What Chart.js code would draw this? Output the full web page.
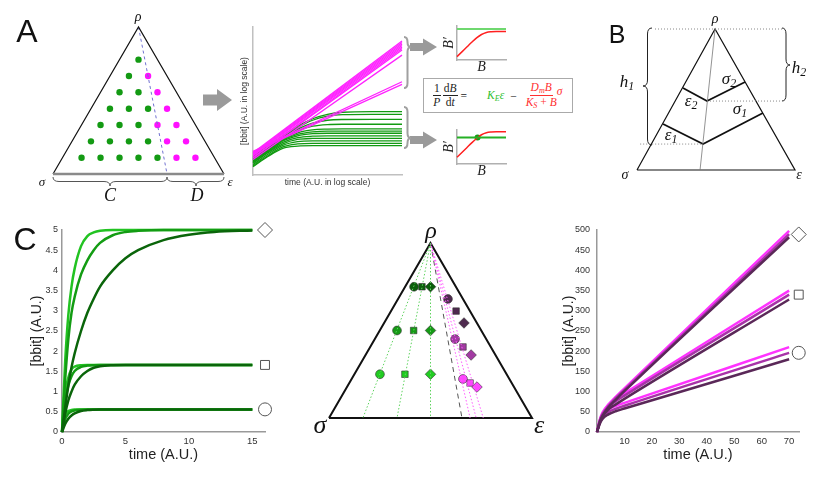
<!DOCTYPE html>
<html><head><meta charset="utf-8">
<script src="https://cdn.jsdelivr.net/npm/chart.js@4.4.1/dist/chart.umd.min.js"></script>
<style>
html,body{margin:0;padding:0;background:#fff;}
#wrap{position:relative;width:831px;height:478px;overflow:hidden;background:#fff;}
canvas{position:absolute;}
.lab{position:absolute;transform:translate(-50%,-50%);font-family:'Liberation Serif',serif;font-style:italic;white-space:nowrap;line-height:1;color:#111;}
.lab sub{font-size:70%;vertical-align:-0.25em;}
.pl{position:absolute;transform:translate(-50%,-50%);font-family:'Liberation Sans',Arial,sans-serif;line-height:1;color:#111;}
#eq{position:absolute;left:423px;top:78px;width:150px;height:35px;border:1px solid #aaa;background:#fff;font-family:'Liberation Serif',serif;font-size:11.5px;display:flex;align-items:center;justify-content:flex-start;padding-left:9px;box-sizing:border-box;color:#222;}
.frac{display:inline-flex;flex-direction:column;align-items:center;vertical-align:middle;line-height:1.15;}
.frac>span:first-child{border-bottom:1px solid currentColor;padding:0 1px;}
#eq sub{font-size:70%;vertical-align:-0.2em;}
</style></head>
<body><div id="wrap">
<canvas id="decor" width="831" height="478" style="left:0;top:0;width:831px;height:478px"></canvas>
<canvas id="triA" width="191" height="167" style="left:43px;top:17px;width:191px;height:167px"></canvas>
<canvas id="logA" width="175" height="172" style="left:236px;top:20px;width:175px;height:172px"></canvas>
<canvas id="smallTop" width="75" height="56" style="left:441px;top:20px;width:75px;height:56px"></canvas>
<canvas id="smallBot" width="75" height="56" style="left:441px;top:124px;width:75px;height:56px"></canvas>
<canvas id="triB" width="198" height="181" style="left:617px;top:9px;width:198px;height:181px"></canvas>
<canvas id="cLeft" width="254" height="263" style="left:26px;top:215px;width:254px;height:263px"></canvas>
<canvas id="triC" width="243" height="215" style="left:309px;top:223px;width:243px;height:215px"></canvas>
<canvas id="cRight" width="272" height="263" style="left:559px;top:215px;width:272px;height:263px"></canvas>

<div id="eq">
  <span class="frac"><span>1</span><span><i>P</i></span></span>
  <span class="frac" style="margin-left:2px"><span>d<i>B</i></span><span>d<i>t</i></span></span>
  <span style="margin-left:3px">=</span>
  <span style="color:#2fbf2f;margin-left:20px"><i>K<sub>E</sub>ε</i></span>
  <span style="margin-left:6px">−</span>
  <span class="frac" style="color:#ff3030;margin-left:9px"><span><i>D<sub>m</sub>B</i></span><span><i>K<sub>S</sub></i> + <i>B</i></span></span><span style="color:#ff3030;position:relative;top:-5px"><i>σ</i></span>
</div>

<div class="pl" style="left:27px;top:31px;font-size:32px">A</div>
<div class="pl" style="left:617px;top:34px;font-size:25px">B</div>
<div class="pl" style="left:25px;top:239px;font-size:32px">C</div>

<div class="lab" style="left:138px;top:17px;font-size:14px">ρ</div>
<div class="lab" style="left:42px;top:181px;font-size:13px">σ</div>
<div class="lab" style="left:230px;top:181px;font-size:13px">ε</div>
<div class="lab" style="left:110px;top:195px;font-size:18px">C</div>
<div class="lab" style="left:197px;top:195px;font-size:18px">D</div>

<div class="lab" style="left:715px;top:19px;font-size:14px">ρ</div>
<div class="lab" style="left:625px;top:175px;font-size:14px">σ</div>
<div class="lab" style="left:799px;top:175px;font-size:14px">ε</div>
<div class="lab" style="left:627px;top:83px;font-size:17px">h<sub>1</sub></div>
<div class="lab" style="left:799px;top:69px;font-size:17px">h<sub>2</sub></div>
<div class="lab" style="left:671px;top:136px;font-size:17px">ε<sub>1</sub></div>
<div class="lab" style="left:691px;top:102px;font-size:17px">ε<sub>2</sub></div>
<div class="lab" style="left:740px;top:110px;font-size:17px">σ<sub>1</sub></div>
<div class="lab" style="left:729px;top:80px;font-size:17px">σ<sub>2</sub></div>

<div class="lab" style="left:431px;top:230px;font-size:24px">ρ</div>
<div class="lab" style="left:320px;top:425px;font-size:26px">σ</div>
<div class="lab" style="left:539px;top:425px;font-size:26px">ε</div>
</div>

<script>
// ---------------- Panel A : ternary lattice (unit triangle: σ=(0,0), ρ=(0.5,1), ε=(1,0)) -------------
const triA_edge_x = [0, 0.5, 1];
const triA_edge_y = [0, 1, 0];
const triA_base_x = [0, 1];
const triA_base_y = [0, 0];
const triA_divider_x = [0.5, 0.667];
const triA_divider_y = [1, 0];
const triA_green_x = [0.5, 0.444, 0.389, 0.5, 0.333, 0.444, 0.556, 0.278, 0.389, 0.5, 0.222, 0.333, 0.444, 0.556, 0.167, 0.278, 0.389, 0.5, 0.611];
const triA_green_y = [0.778, 0.667, 0.556, 0.556, 0.444, 0.444, 0.444, 0.333, 0.333, 0.333, 0.222, 0.222, 0.222, 0.222, 0.111, 0.111, 0.111, 0.111, 0.111];
const triA_mag_x = [0.556, 0.611, 0.667, 0.611, 0.722, 0.667, 0.778, 0.722, 0.833];
const triA_mag_y = [0.667, 0.556, 0.444, 0.333, 0.333, 0.222, 0.222, 0.111, 0.111];

// ---------------- Panel A : log-log time courses -------------
const logTime = [0, 10];
const magentaStart = [1.5, 1.45, 1.4, 1.35, 1.3, 1.2, 1.15, 1.05, 1.6, 1.55];
const magentaEnd   = [9.05, 8.95, 8.85, 8.75, 8.65, 8.55, 8.45, 8.1, 6.3, 6.12];
const greenTime = [0, 1, 2, 3, 4, 5, 6, 8, 10];
const green01 = [1.24, 1.95, 2.65, 3.3, 3.8, 4.1, 4.24, 4.28, 4.28];
const green02 = [1.15, 1.85, 2.55, 3.2, 3.7, 3.98, 4.08, 4.1, 4.1];
const green03 = [1.1, 1.8, 2.5, 3.1, 3.5, 3.7, 3.75, 3.76, 3.76];
const green04 = [1.05, 1.75, 2.45, 3.0, 3.3, 3.41, 3.43, 3.43, 3.43];
const green05 = [1.0, 1.7, 2.4, 2.85, 3.05, 3.1, 3.11, 3.11, 3.11];
const green06 = [0.95, 1.65, 2.35, 2.75, 2.92, 2.97, 2.97, 2.97, 2.97];
const green07 = [0.9, 1.6, 2.3, 2.65, 2.79, 2.82, 2.82, 2.82, 2.82];
const green08 = [0.85, 1.55, 2.2, 2.52, 2.62, 2.64, 2.64, 2.64, 2.64];
const green09 = [0.8, 1.5, 2.1, 2.4, 2.47, 2.48, 2.48, 2.48, 2.48];
const green10 = [0.7, 1.4, 2.0, 2.25, 2.3, 2.3, 2.3, 2.3, 2.3];
const green11 = [0.62, 1.3, 1.9, 2.1, 2.14, 2.14, 2.14, 2.14, 2.14];
const green12 = [0.56, 1.25, 1.8, 1.95, 1.98, 1.98, 1.98, 1.98, 1.98];

// ---------------- Panel A : B' vs B insets -------------
const smallB = [0, 0.1, 0.2, 0.3, 0.4, 0.5, 0.6, 0.7, 0.8, 1];
const topRed = [0.1, 0.24, 0.38, 0.52, 0.65, 0.75, 0.81, 0.83, 0.835, 0.835];
const topGreenLevel = [0.91, 0.91];
const botRed = [0.2, 0.34, 0.48, 0.62, 0.75, 0.86, 0.92, 0.94, 0.945, 0.945];
const botGreenLevel = [0.78, 0.78];
const botFixedPoint = [0.42, 0.78];
const levelB = [0, 1];

// ---------------- Panel B -------------
const triB_edge_x = [0, 0.494, 1, 0];
const triB_edge_y = [0, 1, 0, 0];
const triB_axis_x = [0.494, 0.399];
const triB_axis_y = [1, 0];
const triB_lower_x = [0.165, 0.418, 0.797];
const triB_lower_y = [0.326, 0.184, 0.404];
const triB_upper_x = [0.291, 0.443, 0.684];
const triB_upper_y = [0.582, 0.489, 0.624];
const triB_dot_top_x = [0.114, 0.918];
const triB_dot_top_y = [1, 1];
const triB_dot_mid_x = [0.443, 0.918];
const triB_dot_mid_y = [0.489, 0.489];
const triB_dot_low_x = [0.02, 0.418];
const triB_dot_low_y = [0.184, 0.184];

// ---------------- Panel C left : saturating growth -------------
const cTime = [0, 0.25, 0.5, 0.75, 1, 1.5, 2, 2.5, 3, 4, 5, 6, 8, 10, 12, 15];
const diamondFast = [0, 1.75, 2.9, 3.6, 4.05, 4.6, 4.85, 4.94, 4.98, 5, 5, 5, 5, 5, 5, 5];
const diamondMid  = [0, 1.3, 2.3, 2.95, 3.35, 3.9, 4.25, 4.5, 4.68, 4.87, 4.95, 4.98, 5, 5, 5, 5];
const diamondSlow = [0, 0.6, 1.15, 1.6, 1.95, 2.5, 2.95, 3.3, 3.6, 4.0, 4.3, 4.5, 4.75, 4.88, 4.95, 4.99];
const squareFast  = [0, 0.95, 1.35, 1.55, 1.62, 1.655, 1.66, 1.66, 1.66, 1.66, 1.66, 1.66, 1.66, 1.66, 1.66, 1.66];
const squareMid   = [0, 0.75, 1.15, 1.38, 1.51, 1.61, 1.645, 1.655, 1.66, 1.66, 1.66, 1.66, 1.66, 1.66, 1.66, 1.66];
const squareSlow  = [0, 0.45, 0.78, 1.0, 1.17, 1.38, 1.51, 1.59, 1.63, 1.655, 1.66, 1.66, 1.66, 1.66, 1.66, 1.66];
const circleFast  = [0, 0.42, 0.52, 0.545, 0.555, 0.56, 0.56, 0.56, 0.56, 0.56, 0.56, 0.56, 0.56, 0.56, 0.56, 0.56];
const circleMid   = [0, 0.32, 0.45, 0.51, 0.535, 0.552, 0.558, 0.56, 0.56, 0.56, 0.56, 0.56, 0.56, 0.56, 0.56, 0.56];
const circleSlow  = [0, 0.2, 0.33, 0.41, 0.46, 0.52, 0.543, 0.553, 0.558, 0.56, 0.56, 0.56, 0.56, 0.56, 0.56, 0.56];
const cLeftXTicks = [0, 5, 10, 15];
const cLeftYTicks = [0, 0.5, 1, 1.5, 2, 2.5, 3, 3.5, 4, 4.5, 5];
const cLeftSymbolX = [16, 16, 16];
const cLeftSymbolY = [5, 1.66, 0.56];

// ---------------- Panel C middle : ternary positions -------------
const triC_edge_x = [0, 0.5, 1, 0];
const triC_edge_y = [0, 1, 0, 0];
const triC_greenLineEnds = [0.167, 0.335, 0.5];
const triC_magentaLineEnds = [0.695, 0.725, 0.76];
const triC_dashEnd = [0.655];
const triC_darkGreen_x = [0.419, 0.458, 0.5];
const triC_darkGreen_y = [0.75, 0.75, 0.75];
const triC_midGreen_x = [0.335, 0.417, 0.5];
const triC_midGreen_y = [0.5, 0.5, 0.5];
const triC_lightGreen_x = [0.251, 0.374, 0.5];
const triC_lightGreen_y = [0.25, 0.25, 0.25];
const triC_darkPurple_x = [0.586, 0.626, 0.665];
const triC_darkPurple_y = [0.68, 0.611, 0.543];
const triC_midPurple_x = [0.621, 0.66, 0.7];
const triC_midPurple_y = [0.451, 0.406, 0.36];
const triC_brightPurple_x = [0.66, 0.695, 0.729];
const triC_brightPurple_y = [0.223, 0.2, 0.177];

// ---------------- Panel C right : unbounded growth -------------
const rTime = [0, 1, 2, 4, 7, 10, 70];
const diamondBright = [0, 27, 45, 66, 88, 108, 498];
const diamondPurple = [0, 26, 42, 63, 85, 104, 490];
const diamondDark   = [0, 24, 40, 60, 81, 101, 482];
const squareBright  = [0, 30, 48, 67, 83, 96, 350];
const squarePurple  = [0, 28, 44, 61, 77, 90, 340];
const squareDark    = [0, 24, 38, 55, 69, 82, 328];
const circleBright  = [0, 26, 41, 55, 65, 72, 210];
const circlePurple  = [0, 23, 36, 49, 58, 65, 196];
const circleDark    = [0, 20, 32, 43, 52, 58, 180];
const cRightXTicks = [10, 20, 30, 40, 50, 60, 70];
const cRightYTicks = [0, 50, 100, 150, 200, 250, 300, 350, 400, 450, 500];
const cRightSymbolX = [73.5, 73.5, 73.5];
const cRightSymbolY = [489, 340, 196];

// ================= helpers =================
const SANS = "'Liberation Sans', Arial, sans-serif";
const SERIF = "'Liberation Serif', serif";
const pts = (xs, ys) => xs.map((x, i) => ({x: x, y: ys[i]}));
const base = {responsive: false, animation: false, events: [],
  plugins: {legend: {display: false}, tooltip: {enabled: false}}};
const hidden = {x: {type: 'linear', display: false, min: 0, max: 1}, y: {type: 'linear', display: false, min: 0, max: 1}};
function line(data, color, width, extra) {
  return Object.assign({data: data, showLine: true, borderColor: color, borderWidth: width, pointRadius: 0, fill: false, tension: 0, clip: false}, extra || {});
}
function dots(data, color, radius, extra) {
  return Object.assign({data: data, showLine: false, backgroundColor: color, borderColor: color, pointRadius: radius, pointBorderWidth: 0, clip: false}, extra || {});
}
function braceV(ctx, x, y1, y2, ym, d) {
  const h = d / 2, r = Math.min(6, (ym - y1) / 2, (y2 - ym) / 2);
  ctx.beginPath();
  ctx.moveTo(x, y1);
  ctx.quadraticCurveTo(x + h, y1, x + h, y1 + r);
  ctx.lineTo(x + h, ym - r);
  ctx.quadraticCurveTo(x + h, ym, x + d, ym);
  ctx.quadraticCurveTo(x + h, ym, x + h, ym + r);
  ctx.lineTo(x + h, y2 - r);
  ctx.quadraticCurveTo(x + h, y2, x, y2);
  ctx.stroke();
}
function braceH(ctx, y, x1, x2, xm, d) {
  const h = d / 2, r = Math.min(6, (xm - x1) / 2, (x2 - xm) / 2);
  ctx.beginPath();
  ctx.moveTo(x1, y);
  ctx.quadraticCurveTo(x1, y + h, x1 + r, y + h);
  ctx.lineTo(xm - r, y + h);
  ctx.quadraticCurveTo(xm, y + h, xm, y + d);
  ctx.quadraticCurveTo(xm, y + h, xm + r, y + h);
  ctx.lineTo(x2 - r, y + h);
  ctx.quadraticCurveTo(x2, y + h, x2, y);
  ctx.stroke();
}
function arrow(ctx, x0, xh, x1, yc, sh, hh, color) {
  ctx.fillStyle = color;
  ctx.beginPath();
  ctx.moveTo(x0, yc - sh / 2); ctx.lineTo(xh, yc - sh / 2); ctx.lineTo(xh, yc - hh / 2);
  ctx.lineTo(x1, yc); ctx.lineTo(xh, yc + hh / 2); ctx.lineTo(xh, yc + sh / 2);
  ctx.lineTo(x0, yc + sh / 2); ctx.closePath(); ctx.fill();
}

// ================= decorations (arrows & braces) =================
const decorPlugin = {id: 'decor', afterDraw(chart) {
  const ctx = chart.ctx;
  ctx.save();
  arrow(ctx, 203, 217, 232, 100, 11, 22, '#9a9a9a');
  arrow(ctx, 410, 423, 437, 47, 8, 17, '#9a9a9a');
  arrow(ctx, 410, 423, 437, 140, 8, 17, '#9a9a9a');
  ctx.strokeStyle = '#a0a0a0'; ctx.lineWidth = 2;
  braceV(ctx, 404, 37, 88, 47, 7);
  braceV(ctx, 404, 107, 148, 138, 7);
  ctx.strokeStyle = '#555'; ctx.lineWidth = 1;
  braceH(ctx, 177, 53, 167, 110, 9);
  braceH(ctx, 177, 167, 224, 196, 9);
  ctx.strokeStyle = '#222';
  braceV(ctx, 652, 28, 145, 86, -9);
  braceV(ctx, 782, 28, 101, 65, 8);
  ctx.restore();
}};
new Chart(document.getElementById('decor'), {type: 'scatter', data: {datasets: []},
  options: Object.assign({}, base, {scales: {x: {display: false}, y: {display: false}}}), plugins: [decorPlugin]});

// ================= Panel A triangle =================
new Chart(document.getElementById('triA'), {type: 'scatter', data: {datasets: [
  line(pts(triA_base_x, triA_base_y), '#8a8a8a', 2.5),
  line(pts(triA_edge_x, triA_edge_y), '#111', 1.2),
  line(pts(triA_divider_x, triA_divider_y), '#7070d0', 1, {borderDash: [3, 3]}),
  dots(pts(triA_green_x, triA_green_y), '#139a13', 3.2),
  dots(pts(triA_mag_x, triA_mag_y), '#ff10ff', 3.2)
]}, options: Object.assign({}, base, {layout: {padding: 10}, scales: hidden})});

// ================= Panel A log plot =================
const logSets = [];
magentaStart.forEach((s, i) => logSets.push(line(pts(logTime, [s, magentaEnd[i]]), '#ff22ff', 1.3)));
[green01, green02, green03, green04, green05, green06, green07, green08, green09, green10, green11, green12]
  .forEach(g => logSets.push(line(pts(greenTime, g), '#129a12', 1.3, {cubicInterpolationMode: 'monotone'})));
new Chart(document.getElementById('logA'), {type: 'scatter', data: {datasets: logSets},
  options: Object.assign({}, base, {layout: {padding: {top: 7, right: 9, left: 0, bottom: 0}},
    scales: {
      x: {type: 'linear', min: 0, max: 10, ticks: {display: false}, grid: {display: false, drawTicks: false},
        border: {color: '#c0c0c0', width: 1.5},
        title: {display: true, text: 'time (A.U. in log scale)', color: '#333', font: {family: SANS, size: 8.5}, padding: {top: 0, bottom: 4}},
        afterFit: s => { s.height = 17; }},
      y: {type: 'linear', min: 0, max: 10, ticks: {display: false}, grid: {display: false, drawTicks: false},
        border: {color: '#c0c0c0', width: 1.5},
        title: {display: true, text: '[bbit] (A.U. in log scale)', color: '#333', font: {family: SANS, size: 8.5}, padding: {top: 4, bottom: 0}},
        afterFit: s => { s.width = 17; }}
    }})});

// ================= Panel A insets =================
function inset(id, red, greenLevel, fixedPoint, greenColor) {
  const sets = [line(pts(levelB, greenLevel), greenColor, 2), line(pts(smallB, red), '#ff2020', 1.5, {cubicInterpolationMode: 'monotone'})];
  if (fixedPoint) sets.push(dots([{x: fixedPoint[0], y: fixedPoint[1]}], '#159a15', 3));
  new Chart(document.getElementById(id), {type: 'scatter', data: {datasets: sets},
    options: Object.assign({}, base, {layout: {padding: {top: 6, right: 10, left: 0, bottom: 0}},
      scales: {
        x: {type: 'linear', min: 0, max: 1, ticks: {display: false}, grid: {display: false, drawTicks: false},
          border: {color: '#b0b0b0', width: 1.5},
          title: {display: true, text: 'B', color: '#222', font: {family: SERIF, size: 14, style: 'italic'}, padding: {top: 0, bottom: 0}},
          afterFit: s => { s.height = 16; }},
        y: {type: 'linear', min: 0, max: 1, ticks: {display: false}, grid: {display: false, drawTicks: false},
          border: {color: '#b0b0b0', width: 1.5},
          title: {display: true, text: 'B′', color: '#222', font: {family: SERIF, size: 14, style: 'italic'}, padding: {top: 0, bottom: 0}},
          afterFit: s => { s.width = 16; }}
      }})});
}
inset('smallTop', topRed, topGreenLevel, null, '#6fd86f');
inset('smallBot', botRed, botGreenLevel, botFixedPoint, '#25b025');

// ================= Panel B =================
new Chart(document.getElementById('triB'), {type: 'scatter', data: {datasets: [
  line(pts(triB_dot_top_x, triB_dot_top_y), '#888', 1, {borderDash: [1, 2]}),
  line(pts(triB_dot_mid_x, triB_dot_mid_y), '#888', 1, {borderDash: [1, 2]}),
  line(pts(triB_dot_low_x, triB_dot_low_y), '#888', 1, {borderDash: [1, 2]}),
  line(pts(triB_axis_x, triB_axis_y), '#777', 0.8),
  line(pts(triB_edge_x, triB_edge_y), '#111', 1.2),
  line(pts(triB_lower_x, triB_lower_y), '#111', 1.8),
  line(pts(triB_upper_x, triB_upper_y), '#111', 1.8)
]}, options: Object.assign({}, base, {layout: {padding: 20}, scales: hidden})});

// ================= Panel C left =================
const gFast = '#22c322', gMid = '#139c13', gSlow = '#0a650a';
const symbolSet = (xs, ys) => ({data: pts(xs, ys), showLine: false, pointStyle: ['rectRot', 'rect', 'circle'],
  pointRadius: [7.5, 6.3, 6.5], backgroundColor: '#fff', borderColor: '#555', pointBorderWidth: 1, clip: false});
new Chart(document.getElementById('cLeft'), {type: 'scatter', data: {datasets: [
  line(pts(cTime, diamondSlow), gSlow, 2.5, {cubicInterpolationMode: 'monotone'}),
  line(pts(cTime, squareSlow), gSlow, 2.5, {cubicInterpolationMode: 'monotone'}),
  line(pts(cTime, circleSlow), gSlow, 2.5, {cubicInterpolationMode: 'monotone'}),
  line(pts(cTime, diamondMid), gMid, 2.5, {cubicInterpolationMode: 'monotone'}),
  line(pts(cTime, squareMid), gMid, 2.5, {cubicInterpolationMode: 'monotone'}),
  line(pts(cTime, circleMid), gMid, 2.5, {cubicInterpolationMode: 'monotone'}),
  line(pts(cTime, diamondFast), gFast, 2.5, {cubicInterpolationMode: 'monotone'}),
  line(pts(cTime, squareFast), gFast, 2.5, {cubicInterpolationMode: 'monotone'}),
  line(pts(cTime, circleFast), gFast, 2.5, {cubicInterpolationMode: 'monotone'}),
  symbolSet(cLeftSymbolX, cLeftSymbolY)
]}, options: Object.assign({}, base, {layout: {padding: {top: 15, right: 15, bottom: 10, left: 0}},
  scales: {
    x: {type: 'linear', min: 0, max: 16, afterBuildTicks: s => { s.ticks = cLeftXTicks.map(v => ({value: v})); },
      ticks: {callback: v => String(v), color: '#333', font: {family: SANS, size: 9.5}, padding: 4, maxRotation: 0},
      grid: {display: false, drawTicks: false}, border: {color: '#999', width: 1.5},
      title: {display: true, text: 'time (A.U.)', color: '#222', font: {family: SANS, size: 14.5}, padding: {top: 0, bottom: 4}},
      afterFit: s => { s.height = 36; }},
    y: {type: 'linear', min: 0, max: 5, afterBuildTicks: s => { s.ticks = cLeftYTicks.map(v => ({value: v})); },
      ticks: {callback: v => String(v), color: '#333', font: {family: SANS, size: 9}, padding: 4},
      grid: {display: false, drawTicks: false}, border: {color: '#999', width: 1.5},
      title: {display: true, text: '[bbit] (A.U.)', color: '#222', font: {family: SANS, size: 14}, padding: {top: 3, bottom: 0}},
      afterFit: s => { s.width = 36; }}
  }})});

// ================= Panel C middle =================
const apexC = {x: 0.5, y: 1};
const triCSets = [];
triC_greenLineEnds.forEach(e => triCSets.push(line([apexC, {x: e, y: 0}], '#5fd35f', 1, {borderDash: [1.5, 2]})));
triC_magentaLineEnds.forEach(e => triCSets.push(line([apexC, {x: e, y: 0}], '#ff5cff', 1, {borderDash: [1.5, 2]})));
triCSets.push(line([apexC, {x: triC_dashEnd[0], y: 0}], '#555', 1, {borderDash: [5, 4]}));
triCSets.push(line(pts(triC_edge_x, triC_edge_y), '#111', 2));
function markerSet(xs, ys, color) {
  return {data: pts(xs, ys), showLine: false, pointStyle: ['circle', 'rect', 'rectRot'], pointRadius: [4.4, 4.6, 5.3],
    backgroundColor: color, borderColor: '#333', pointBorderWidth: 0.6, clip: false};
}
triCSets.push(markerSet(triC_darkGreen_x, triC_darkGreen_y, '#0b5e0b'));
triCSets.push(markerSet(triC_midGreen_x, triC_midGreen_y, '#159a15'));
triCSets.push(markerSet(triC_lightGreen_x, triC_lightGreen_y, '#22cc22'));
triCSets.push(markerSet(triC_darkPurple_x, triC_darkPurple_y, '#4f2a4f'));
triCSets.push(markerSet(triC_midPurple_x, triC_midPurple_y, '#a23aa2'));
triCSets.push(markerSet(triC_brightPurple_x, triC_brightPurple_y, '#ff45ff'));
new Chart(document.getElementById('triC'), {type: 'scatter', data: {datasets: triCSets},
  options: Object.assign({}, base, {layout: {padding: 20}, scales: hidden})});

// ================= Panel C right =================
const pBright = '#ff33ff', pMid = '#a832a8', pDark = '#5a2858';
new Chart(document.getElementById('cRight'), {type: 'scatter', data: {datasets: [
  line(pts(rTime, diamondDark), pDark, 2.5, {cubicInterpolationMode: 'monotone'}),
  line(pts(rTime, squareDark), pDark, 2.5, {cubicInterpolationMode: 'monotone'}),
  line(pts(rTime, circleDark), pDark, 2.5, {cubicInterpolationMode: 'monotone'}),
  line(pts(rTime, diamondPurple), pMid, 2.5, {cubicInterpolationMode: 'monotone'}),
  line(pts(rTime, squarePurple), pMid, 2.5, {cubicInterpolationMode: 'monotone'}),
  line(pts(rTime, circlePurple), pMid, 2.5, {cubicInterpolationMode: 'monotone'}),
  line(pts(rTime, diamondBright), pBright, 2.5, {cubicInterpolationMode: 'monotone'}),
  line(pts(rTime, squareBright), pBright, 2.5, {cubicInterpolationMode: 'monotone'}),
  line(pts(rTime, circleBright), pBright, 2.5, {cubicInterpolationMode: 'monotone'}),
  symbolSet(cRightSymbolX, cRightSymbolY)
]}, options: Object.assign({}, base, {layout: {padding: {top: 15, right: 32, bottom: 10, left: 0}},
  scales: {
    x: {type: 'linear', min: 0, max: 73.6, afterBuildTicks: s => { s.ticks = cRightXTicks.map(v => ({value: v})); },
      ticks: {callback: v => String(v), color: '#333', font: {family: SANS, size: 9.5}, padding: 4, maxRotation: 0},
      grid: {display: false, drawTicks: false}, border: {color: '#999', width: 1.5},
      title: {display: true, text: 'time (A.U.)', color: '#222', font: {family: SANS, size: 14.5}, padding: {top: 0, bottom: 4}},
      afterFit: s => { s.height = 36; }},
    y: {type: 'linear', min: 0, max: 500, afterBuildTicks: s => { s.ticks = cRightYTicks.map(v => ({value: v})); },
      ticks: {callback: v => String(v), color: '#333', font: {family: SANS, size: 9}, padding: 7},
      grid: {display: false, drawTicks: false}, border: {color: '#999', width: 1.5},
      title: {display: true, text: '[bbit] (A.U.)', color: '#222', font: {family: SANS, size: 14}, padding: {top: 2, bottom: 0}},
      afterFit: s => { s.width = 38; }}
  }})});
</script>
</body></html>
